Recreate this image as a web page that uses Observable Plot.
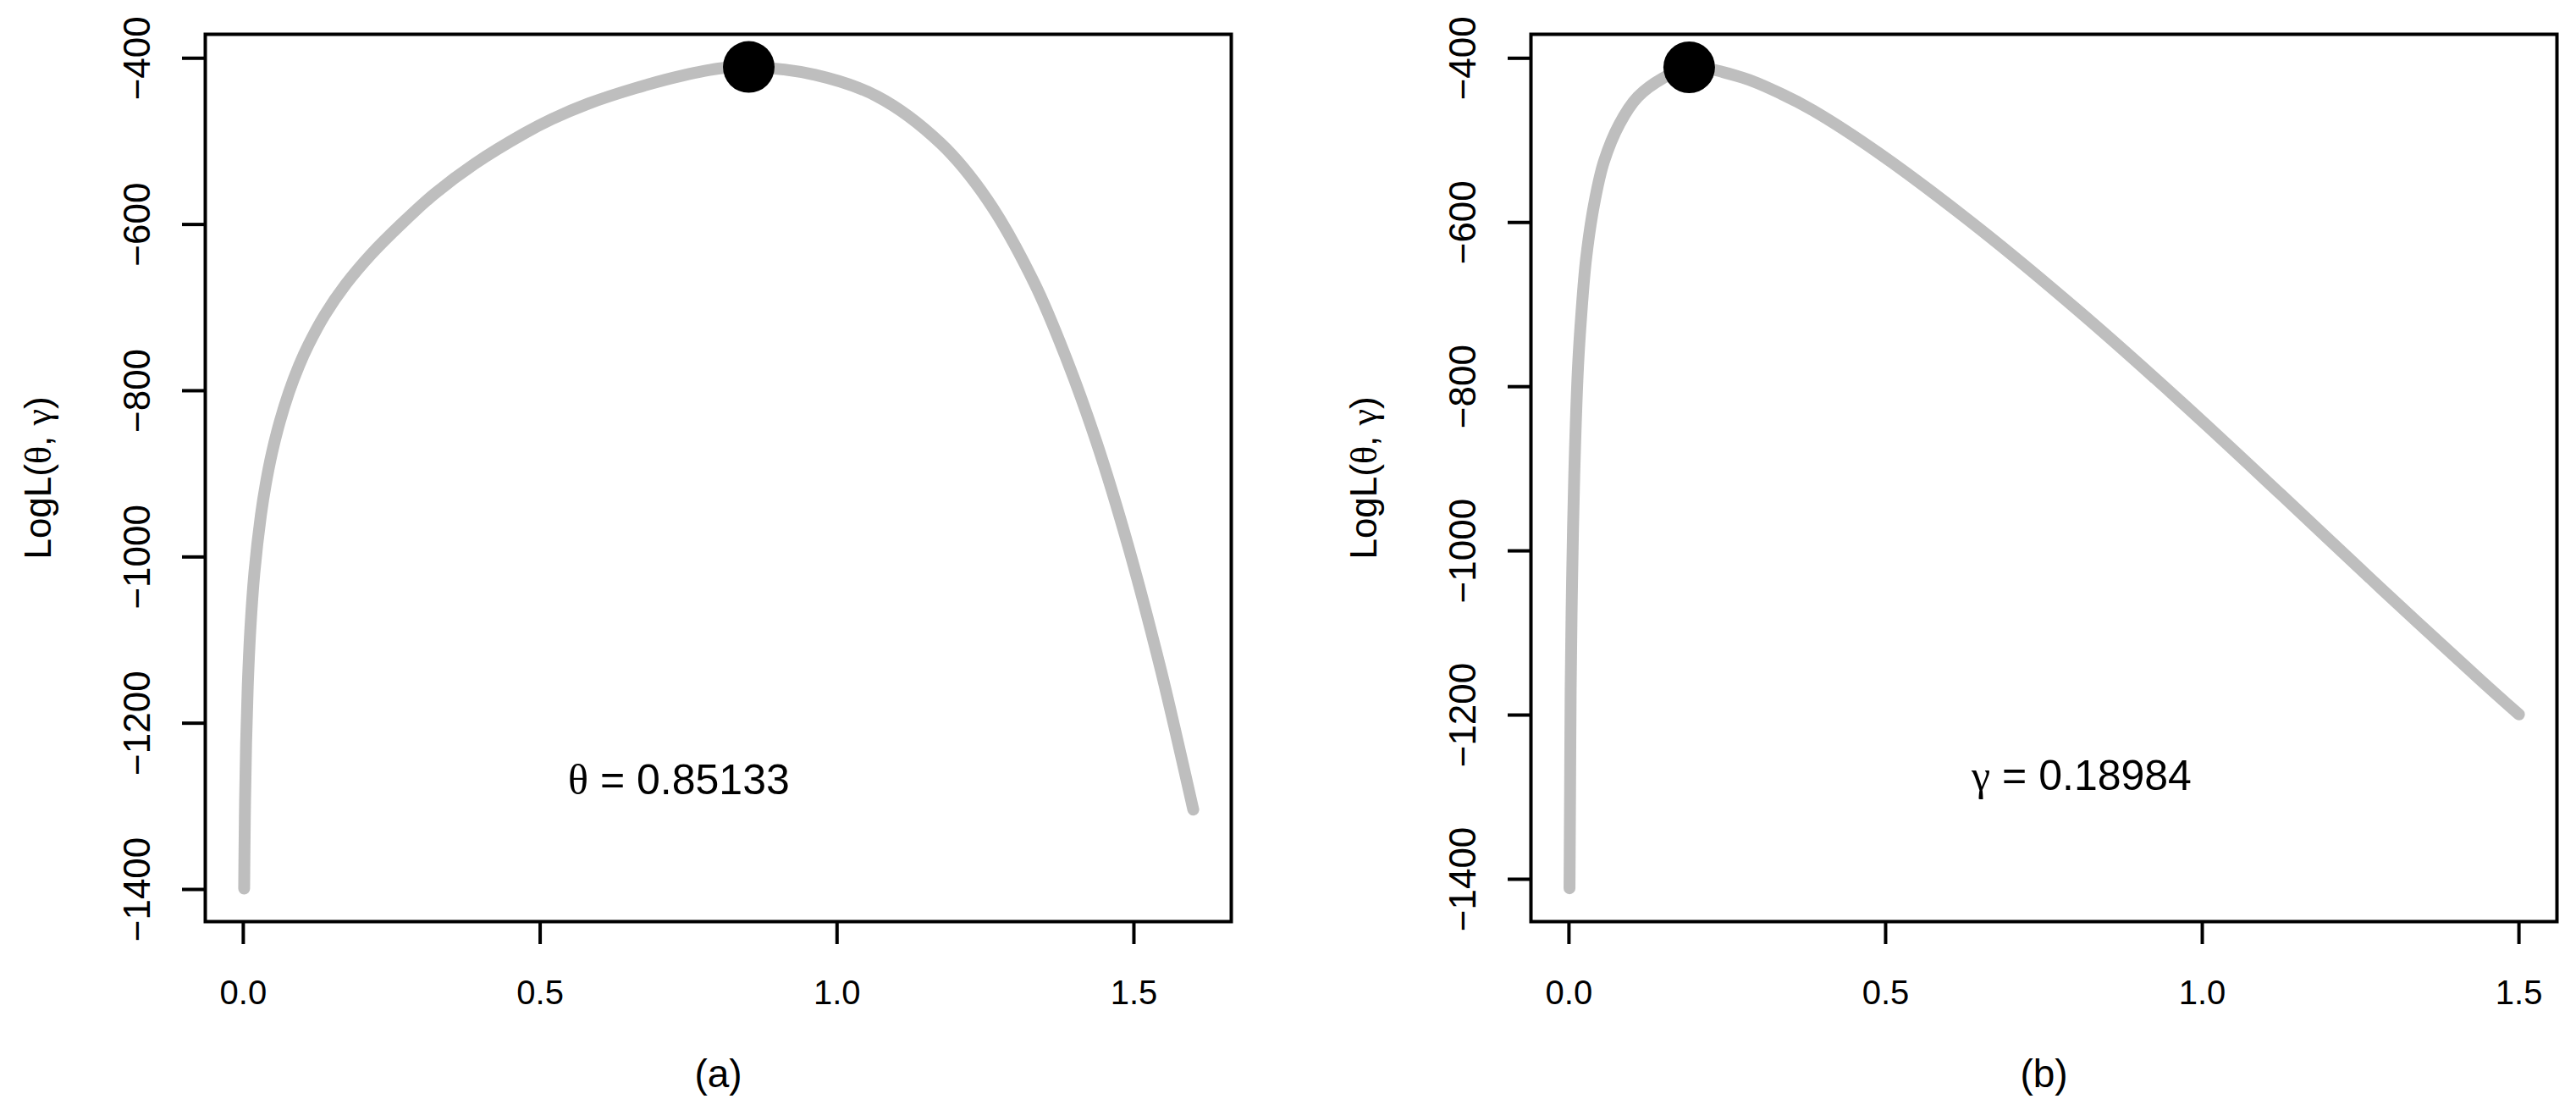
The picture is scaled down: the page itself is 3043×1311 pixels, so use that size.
<!DOCTYPE html>
<html>
<head>
<meta charset="utf-8">
<script src="https://cdn.jsdelivr.net/npm/d3@7"></script>
<script src="https://cdn.jsdelivr.net/npm/@observablehq/plot@0.6"></script>
<style>
  html, body { margin: 0; padding: 0; background: #fff; }
  #fig { position: relative; width: 3043px; height: 1311px; background: #fff; overflow: hidden; }
  #pa { position: absolute; left: 0; top: 0; }
  #pb { position: absolute; left: 1566px; top: 0; }
  svg { font-family: "Liberation Sans", Helvetica, Arial, sans-serif; }
  #fig g[aria-label="x-axis"] line, #fig g[aria-label="y-axis"] line,
  #fig g[aria-label="x-axis tick"] path, #fig g[aria-label="y-axis tick"] path {
    stroke-width: 4px; stroke: #000;
  }
  #fig g[aria-label="x-axis"] path.domain, #fig g[aria-label="y-axis"] path.domain { display: none; }
  tspan.greek { font-family: "Liberation Serif", "DejaVu Serif", serif; }
</style>
</head>
<body>
<div id="fig"><div id="pa"></div><div id="pb"></div></div>
<script>
// ---- Panel (a): log-likelihood profile in theta ----
const thetaA = [0.00148, 0.00189, 0.00299, 0.00473, 0.0075, 0.01188, 0.0188, 0.0296, 0.0379, 0.0482,
  0.0616, 0.0768, 0.0938, 0.1097, 0.1371, 0.1726, 0.2151, 0.2653, 0.3222, 0.3897,
  0.4744, 0.5194, 0.5812, 0.6603, 0.7390, 0.8060, 0.8513,
  0.9630, 1.0680, 1.1740, 1.2530, 1.3320, 1.3850, 1.4370, 1.4900, 1.5430, 1.5690, 1.6000];
const logLA = [-1399, -1363, -1294, -1225, -1156, -1087, -1018, -950, -912, -875,
  -837, -802, -770, -745, -709, -672, -636, -600, -563, -527,
  -490, -473.3, -454.6, -436, -421, -412, -410.5,
  -420, -446, -502, -570, -670, -759, -862, -986, -1129, -1207, -1304];
const peakA = {x: 0.85133, y: -410.5};

// ---- Panel (b): log-likelihood profile in gamma ----
const gammaB = [0.0009, 0.0018, 0.0027, 0.0049, 0.0084, 0.0143, 0.0197, 0.0271, 0.0397, 0.0552,
  0.0798, 0.1087, 0.1488, 0.18984, 0.2737, 0.3360, 0.3850, 0.4900, 0.6487, 0.8073,
  0.9659, 1.1245, 1.2830, 1.4417, 1.5000];
const logLB = [-1411, -1290, -1170, -1039, -907, -776, -710, -644, -578, -526,
  -480, -447, -424, -411, -423.5, -443.6, -463.3, -515.9, -608.0, -709.5,
  -818.1, -931.5, -1046.4, -1159.1, -1199.3];
const peakB = {x: 0.18984, y: -411};

// ---- ticks and labels ----
const xTicksA = [0, 0.5, 1.0, 1.5];
const xTicksB = [0, 0.5, 1.0, 1.5];
const yTicks = [-400, -600, -800, -1000, -1200, -1400];
const yLabel = "LogL(θ, γ)";
const noteA = {x: 0.7336, y: -1268.6, text: "θ = 0.85133"};
const noteB = {x: 0.8095, y: -1275.2, text: "γ = 0.18984"};
const captionA = "(a)";
const captionB = "(b)";

const fmtX = d3.format(".1f");
const fmtY = d => d < 0 ? "\u2212" + Math.abs(d) : String(d);

function panel({xs, ys, peak, xTicks, note, caption, width, marginRight, xDomain, yDomain}) {
  const data = xs.map((x, i) => ({x, y: ys[i]}));
  return Plot.plot({
    width, height: 1311,
    marginLeft: 242, marginRight, marginTop: 40, marginBottom: 223,
    x: {domain: xDomain, ticks: xTicks, tickSize: 27, tickFormat: () => "", label: null, line: false},
    y: {domain: yDomain, ticks: yTicks, tickSize: 27, tickFormat: () => "", label: null, line: false},
    style: {background: "white", fontFamily: "'Liberation Sans', Helvetica, Arial, sans-serif", color: "black"},
    marks: [
      Plot.line(data, {x: "x", y: "y", stroke: "#BEBEBE", strokeWidth: 14,
        strokeLinecap: "round", strokeLinejoin: "round", curve: "catmull-rom"}),
      Plot.dot([peak], {x: "x", y: "y", r: 30.5, fill: "black", stroke: null}),
      Plot.frame({stroke: "black", strokeWidth: 4}),
      Plot.text(xTicks, {x: d => d, text: fmtX, frameAnchor: "bottom", dy: 97,
        lineAnchor: "bottom", textAnchor: "middle", fontSize: 40, fill: "black"}),
      Plot.text(yTicks, {y: d => d, text: fmtY, frameAnchor: "left", dx: -66, rotate: -90,
        lineAnchor: "bottom", textAnchor: "middle", fontSize: 44, fill: "black"}),
      Plot.text([yLabel], {text: d => d, frameAnchor: "left", dx: -183, rotate: -90,
        lineAnchor: "bottom", textAnchor: "middle", fontSize: 44, fill: "black"}),
      Plot.text([note], {x: "x", y: "y", text: "text", fontSize: 50, textAnchor: "middle",
        lineAnchor: "middle", fill: "black"}),
      Plot.text([caption], {text: d => d, frameAnchor: "bottom", dy: 195,
        lineAnchor: "bottom", textAnchor: "middle", fontSize: 46, fill: "black"})
    ]
  });
}

// Render Greek letters in a serif face (like R's symbol font), keeping them as real text.
function greekify(svg) {
  svg.querySelectorAll("text").forEach(t => {
    const s = t.textContent;
    if (!/[θγ]/.test(s) || t.querySelector("tspan")) return;
    t.textContent = "";
    s.split(/([θγ])/).forEach(part => {
      if (!part) return;
      const ts = document.createElementNS("http://www.w3.org/2000/svg", "tspan");
      if (/[θγ]/.test(part)) ts.setAttribute("class", "greek");
      ts.textContent = part;
      t.appendChild(ts);
    });
  });
}

const svgA = panel({
  xs: thetaA, ys: logLA, peak: peakA, xTicks: xTicksA, note: noteA, caption: captionA,
  width: 1520, marginRight: 66, xDomain: [-0.064, 1.664], yDomain: [-1438.7, -371.2]
});
const svgB = panel({
  xs: gammaB, ys: logLB, peak: peakB, xTicks: xTicksB, note: noteB, caption: captionB,
  width: 1477, marginRight: 23, xDomain: [-0.06, 1.56], yDomain: [-1451.6, -370.8]
});
greekify(svgA); greekify(svgB);
document.getElementById("pa").appendChild(svgA);
document.getElementById("pb").appendChild(svgB);
</script>
</body>
</html>
